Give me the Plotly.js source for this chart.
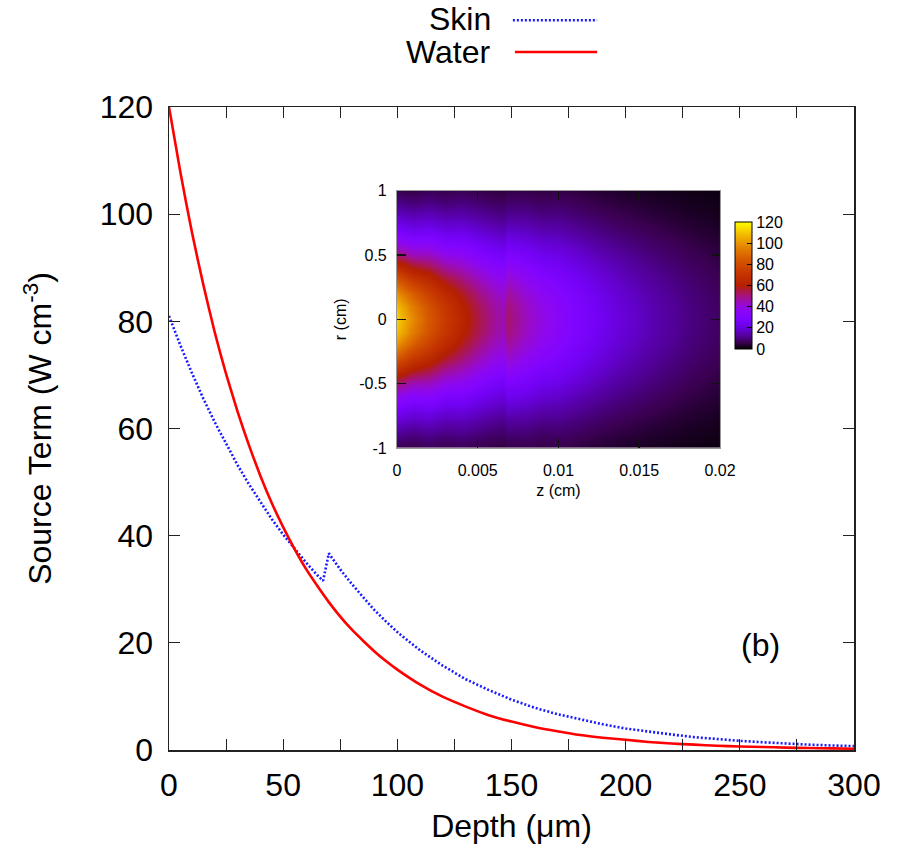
<!DOCTYPE html>
<html><head><meta charset="utf-8">
<script src="https://cdn.plot.ly/plotly-3.0.1.min.js"></script>
<style>body{margin:0;background:#fff}#chart{width:899px;height:852px}</style>
</head><body><div id="chart"></div>
<script>
// ---- Main plot data (Depth in μm, Source term in W cm^-3) ----
const depthWater = [0,5,10,15,20,25,30,35,40,45,50,55,60,65,70,75,80,85,90,95,100,110,120,130,140,150,160,170,180,190,200,210,220,230,240,250,260,270,280,290,300];
const sourceWater = [120,107.8,96.7,86.9,78.0,70.2,63.2,56.9,51.2,46.1,41.6,37.5,33.8,30.6,27.6,24.9,22.5,20.4,18.4,16.6,15.0,12.2,9.9,8.1,6.5,5.3,4.3,3.5,2.8,2.3,1.9,1.5,1.2,1.0,0.8,0.66,0.55,0.45,0.36,0.3,0.24];
const depthSkin = [0,5,10,15,20,25,30,35,40,45,50,55,60,65,67.5,70,75,80,85,90,95,100,110,120,130,140,150,160,170,180,190,200,210,220,230,240,250,260,270,280,290,300];
const sourceSkin = [81,75.5,70.4,65.6,61.2,57.1,53.2,49.6,46.3,43.1,40.2,37.5,35.0,32.6,31.6,36.7,33.7,31.0,28.5,26.1,24.0,22.0,18.6,15.7,13.2,11.2,9.4,7.9,6.7,5.7,4.8,4.0,3.4,2.9,2.4,2.0,1.7,1.45,1.2,1.0,0.85,0.72];
const seriesNames = ['Skin','Water'];
const xTickVals = [0,50,100,150,200,250,300];
const xTickText = ['0','50','100','150','200','250','300'];
const yTickVals = [0,20,40,60,80,100,120];

// ---- Inset heatmap data (z in cm, r in cm) ----
const insetZ = [0,0.001,0.002,0.003,0.004,0.005,0.006,0.0066,0.0068,0.008,0.009,0.010,0.011,0.012,0.013,0.014,0.015,0.016,0.017,0.018,0.019,0.020];
const insetAxial = [112,97,84,73,63,55,48,45,52,44,38.5,34,30,26,22.5,19.5,17,14.5,12.5,10.5,9,7.5];
const insetProfile = ['A','A','AB','AB','B','B','B','B','B','BC','BC','C','C','C','C','C','C','C','C','C','C','C'];
const insetRPos = [0,0.1,0.2,0.3,0.4,0.5,0.6,0.7,0.8,0.9,1.0];
const radialA  = [1,0.969,0.882,0.754,0.605,0.456,0.330,0.235,0.160,0.100,0.055];
const radialAB = [1,0.974,0.899,0.787,0.653,0.514,0.390,0.285,0.200,0.130,0.080];
const radialB  = [1,0.977,0.912,0.814,0.693,0.564,0.445,0.335,0.240,0.165,0.105];
const radialBC = [1,0.980,0.922,0.833,0.723,0.603,0.485,0.375,0.278,0.196,0.132];
const radialC  = [1,0.982,0.930,0.850,0.750,0.638,0.523,0.414,0.316,0.233,0.165];
const cbTickVals = [0,20,40,60,80,100,120];
const insetXTickVals = [0,0.005,0.01,0.015,0.02];
const insetXTickText = ['0','0.005','0.01','0.015','0.02'];
const insetYTickVals = [-1,-0.5,0,0.5,1];
const insetYTickText = ['-1','-0.5','0','0.5','1'];

// build the heatmap table from the arrays above
const profiles = {A: radialA, AB: radialAB, B: radialB, BC: radialBC, C: radialC};
const rIdx = insetRPos.map((v,i)=>i);
const rowIdx = rIdx.slice(1).reverse().concat(rIdx); // |r| index for r = -1..1
const insetR = insetRPos.slice(1).reverse().map(v=>-v).concat(insetRPos);
const zMatrix = rowIdx.map(j => insetAxial.map((a,i) => a * profiles[insetProfile[i]][j]));

// gnuplot-like palette (black - violet - red - yellow)
const palette = [
  [0,'rgb(0,0,0)'],[0.05,'rgb(57,0,79)'],[0.1,'rgb(81,0,150)'],[0.15,'rgb(99,1,206)'],
  [0.2,'rgb(114,2,243)'],[0.25,'rgb(128,4,255)'],[0.3,'rgb(140,7,243)'],[0.35,'rgb(151,11,206)'],
  [0.4,'rgb(161,16,150)'],[0.45,'rgb(171,23,79)'],[0.5,'rgb(180,32,0)'],[0.6,'rgb(198,55,0)'],
  [0.7,'rgb(213,87,0)'],[0.8,'rgb(228,131,0)'],[0.9,'rgb(242,186,0)'],[1,'rgb(255,255,0)']
];

const FONT = 'Liberation Sans, Arial, Helvetica, sans-serif';

const traces = [
  {type:'scatter', mode:'lines', name:seriesNames[0], x:depthSkin, y:sourceSkin,
   line:{color:'#1a1aff', width:2.6, dash:'2px,2px'}, xaxis:'x', yaxis:'y'},
  {type:'scatter', mode:'lines', name:seriesNames[1], x:depthWater, y:sourceWater,
   line:{color:'#ff0000', width:2.6, shape:'spline', smoothing:0.6}, xaxis:'x', yaxis:'y'},
  {type:'heatmap', x:insetZ, y:insetR, z:zMatrix, xaxis:'x2', yaxis:'y2',
   zsmooth:'best', zmin:0, zmax:120, colorscale:palette,
   colorbar:{x:0.8263, xanchor:'left', xpad:0, y:0.7224, yanchor:'middle', ypad:0,
     len:127, lenmode:'pixels', thickness:17, thicknessmode:'pixels',
     outlinecolor:'#000', outlinewidth:1, tickvals:cbTickVals, ticks:'inside', ticklen:5,
     tickcolor:'#000', tickfont:{family:FONT, size:16, color:'#000'}, ticklabelstandoff:4}}
];

const mainAxis = {
  showline:true, linecolor:'#222', linewidth:1.5, mirror:'ticks', ticks:'inside',
  ticklen:11, tickwidth:1, tickcolor:'#222', showgrid:false, zeroline:false,
  tickfont:{family:FONT, size:32, color:'#000'}
};
const insetAxis = {
  showline:true, linecolor:'#999', linewidth:1, mirror:'ticks', ticks:'inside',
  ticklen:9, tickwidth:1.5, tickcolor:'#111', showgrid:false, zeroline:false,
  tickfont:{family:FONT, size:16, color:'#000'}
};

const layout = {
  width:899, height:852,
  margin:{l:169, r:45, t:107, b:102},
  paper_bgcolor:'#fff', plot_bgcolor:'rgba(0,0,0,0)',
  font:{family:FONT, size:32, color:'#000'},
  showlegend:false,
  xaxis:Object.assign({}, mainAxis, {domain:[0,1], anchor:'y', range:[0,300],
    tickmode:'array', tickvals:xTickVals, ticktext:xTickText, ticklabelstandoff:6,
    minor:{dtick:25, tick0:0, ticks:'inside', ticklen:11, tickwidth:1, tickcolor:'#222', showgrid:false},
    title:{text:'Depth (μm)', font:{family:FONT, size:32}, standoff:12}}),
  yaxis:Object.assign({}, mainAxis, {domain:[0,1], anchor:'x', range:[0,120],
    tickmode:'array', tickvals:yTickVals, ticklabelstandoff:8,
    title:{text:'Source Term (W cm<sup>-3</sup>)', font:{family:FONT, size:32}, standoff:38}}),
  xaxis2:Object.assign({}, insetAxis, {domain:[0.3328,0.8044], anchor:'y2', range:[0,0.02],
    tickmode:'array', tickvals:insetXTickVals, ticktext:insetXTickText, ticklabelstandoff:8,
    title:{text:'z (cm)', font:{family:FONT, size:16}, standoff:6}}),
  yaxis2:Object.assign({}, insetAxis, {domain:[0.4697,0.870], anchor:'x2', range:[-1,1],
    tickmode:'array', tickvals:insetYTickVals, ticktext:insetYTickText, ticklabelstandoff:6,
    title:{text:'r (cm)', font:{family:FONT, size:16}, standoff:8}}),
  annotations:[
    {text:'(b)', xref:'paper', yref:'paper', x:0.863, y:0.163, xanchor:'center', yanchor:'middle',
     showarrow:false, font:{family:FONT, size:32}},
    {text:seriesNames[0], xref:'paper', yref:'paper', x:0.473, y:1.137, xanchor:'right', yanchor:'middle',
     showarrow:false, font:{family:FONT, size:32}},
    {text:seriesNames[1], xref:'paper', yref:'paper', x:0.473, y:1.085, xanchor:'right', yanchor:'middle',
     showarrow:false, font:{family:FONT, size:32}}
  ],
  shapes:[
    {type:'line', xref:'paper', yref:'paper', x0:0.502, x1:0.625, y0:1.135, y1:1.135,
     line:{color:'#1a1aff', width:2.6, dash:'2px,2px'}},
    {type:'line', xref:'paper', yref:'paper', x0:0.505, x1:0.625, y0:1.0855, y1:1.0855,
     line:{color:'#ff0000', width:2.6}}
  ]
};

Plotly.newPlot('chart', traces, layout, {displayModeBar:false, staticPlot:true});
</script>
</body></html>
